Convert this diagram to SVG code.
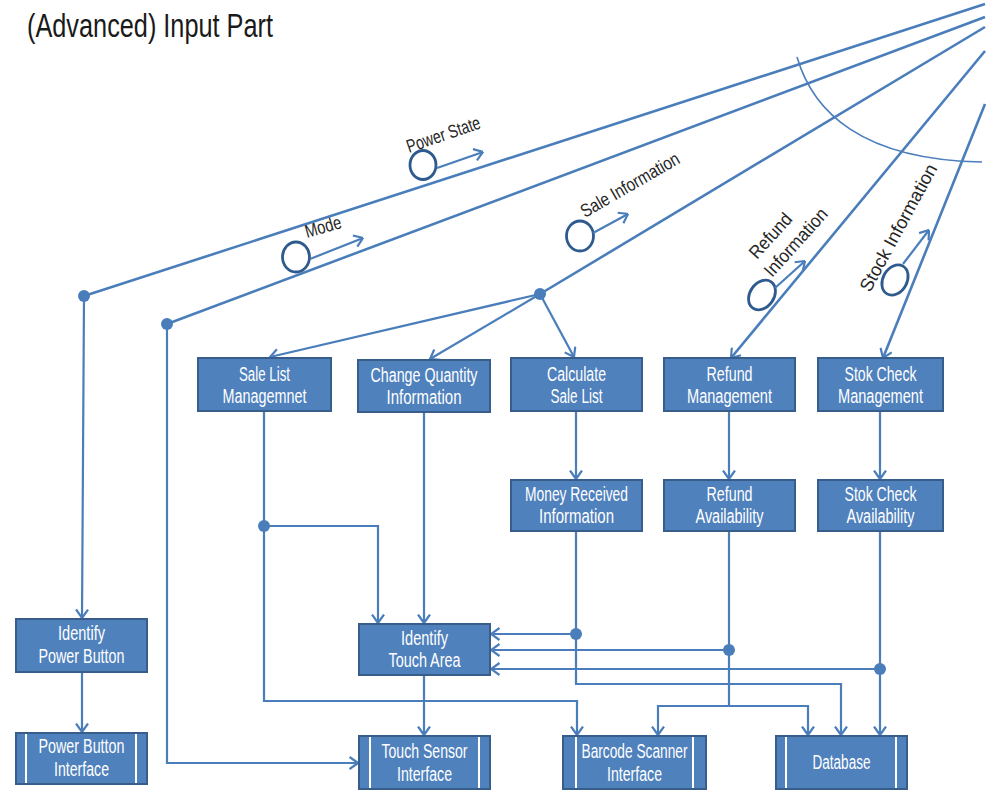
<svg xmlns="http://www.w3.org/2000/svg" width="989" height="790" viewBox="0 0 989 790">
  <defs>
    <marker id="arr" markerUnits="userSpaceOnUse" viewBox="0 0 10 14" refX="9.5" refY="7" markerWidth="10" markerHeight="14" orient="auto">
      <path d="M1,1 L9.5,7 L1,13" fill="none" stroke="#4a7ebb" stroke-width="2.2" stroke-linejoin="miter"/>
    </marker>
    <style>
      .box { fill: #4f81bd; stroke: #385d8a; stroke-width: 2; }
      .bar { stroke: #ffffff; stroke-width: 2; }
      .nt { font-family: "Liberation Sans", Arial, sans-serif; font-size: 19.5px; fill: #ffffff; text-anchor: middle; }
      .lt { font-family: "Liberation Sans", Arial, sans-serif; font-size: 18.5px; fill: #262626; }
      .wire { fill: none; stroke: #4a7ebb; stroke-width: 2.2; }
      .flow { fill: none; stroke: #4a7ebb; stroke-width: 2.6; }
      .tok { fill: none; stroke: #2f5a8e; stroke-width: 2.8; }
      .dot { fill: #4a7ebb; }
    </style>
  </defs>
  <rect width="989" height="790" fill="#ffffff"/>

  <text x="27" y="37" font-family="Liberation Sans, Arial, sans-serif" font-size="33" fill="#1a1a1a" textLength="246" lengthAdjust="spacingAndGlyphs">(Advanced) Input Part</text>

  <!-- boundary arc -->
  <path d="M797,57 C813,112 862,160 982,162" fill="none" stroke="#4a7ebb" stroke-width="1.6"/>

  <!-- connectors -->
  <g id="connectors">
    <path class="flow" d="M985,4 L84,296"/>
    <path class="flow" d="M985,17 L167,324"/>
    <path class="flow" d="M985,27 L540,294"/>
    <path class="flow" d="M985,51 L731,358" marker-end="url(#arr)"/>
    <path class="flow" d="M985,104 L883,358" marker-end="url(#arr)"/>

    <path class="wire" d="M84,296 L82,618" marker-end="url(#arr)"/>
    <path class="wire" d="M82,672 L82,732" marker-end="url(#arr)"/>
    <path class="wire" d="M167,324 L167,763 L358,763" marker-end="url(#arr)"/>

    <path class="wire" d="M540,294 L270,357" marker-end="url(#arr)"/>
    <path class="wire" d="M540,294 L430,359" marker-end="url(#arr)"/>
    <path class="wire" d="M540,294 L574,357" marker-end="url(#arr)"/>

    <path class="wire" d="M576,411 L576,479" marker-end="url(#arr)"/>
    <path class="wire" d="M729,411 L729,479" marker-end="url(#arr)"/>
    <path class="wire" d="M880,411 L880,479" marker-end="url(#arr)"/>

    <path class="wire" d="M264,411 L264,701 L577,701 L577,735" marker-end="url(#arr)"/>
    <path class="wire" d="M264,526 L378,526 L378,623" marker-end="url(#arr)"/>
    <path class="wire" d="M424,412 L424,623" marker-end="url(#arr)"/>
    <path class="wire" d="M424,675 L424,735" marker-end="url(#arr)"/>

    <path class="wire" d="M576,531 L576,684 L841,684 L841,735" marker-end="url(#arr)"/>
    <path class="wire" d="M576,634 L491,634" marker-end="url(#arr)"/>

    <path class="wire" d="M729,531 L729,706"/>
    <path class="wire" d="M729,706 L658,706 L658,735" marker-end="url(#arr)"/>
    <path class="wire" d="M729,706 L808,706 L808,735" marker-end="url(#arr)"/>
    <path class="wire" d="M729,650 L491,650" marker-end="url(#arr)"/>

    <path class="wire" d="M880,531 L880,735" marker-end="url(#arr)"/>
    <path class="wire" d="M880,669 L491,669" marker-end="url(#arr)"/>

    <circle class="dot" cx="84" cy="296" r="6"/>
    <circle class="dot" cx="167" cy="324" r="6"/>
    <circle class="dot" cx="540" cy="294" r="6"/>
    <circle class="dot" cx="264" cy="526" r="6"/>
    <circle class="dot" cx="576" cy="634" r="6"/>
    <circle class="dot" cx="729" cy="650" r="6"/>
    <circle class="dot" cx="880" cy="669" r="6"/>
  </g>

  <!-- data tokens on the incoming flows -->
  <g id="flow-labels">
    <ellipse class="tok" cx="423" cy="165" rx="13" ry="14.5"/>
    <path class="wire" d="M437,168 L483,152" marker-end="url(#arr)"/>
    <text class="lt" x="409" y="153" transform="rotate(-19 409 153)" textLength="77" lengthAdjust="spacingAndGlyphs">Power  State</text>

    <ellipse class="tok" cx="296" cy="257" rx="13.5" ry="15"/>
    <path class="wire" d="M310,259 L363,238" marker-end="url(#arr)"/>
    <text class="lt" x="307" y="238" transform="rotate(-16 307 238)" textLength="37" lengthAdjust="spacingAndGlyphs">Mode</text>

    <ellipse class="tok" cx="580" cy="236" rx="13.5" ry="15"/>
    <path class="wire" d="M593,233 L628,214" marker-end="url(#arr)"/>
    <text class="lt" x="585" y="218" transform="rotate(-30 585 218)" textLength="111" lengthAdjust="spacingAndGlyphs">Sale Information</text>

    <ellipse class="tok" cx="762" cy="295" rx="12" ry="16" transform="rotate(35 762 295)"/>
    <path class="wire" d="M775,288 L805,261" marker-end="url(#arr)"/>
    <text class="lt" x="757" y="260" transform="rotate(-48 757 260)" textLength="54" lengthAdjust="spacingAndGlyphs">Refund</text>
    <text class="lt" x="772" y="278" transform="rotate(-48 772 278)" textLength="85" lengthAdjust="spacingAndGlyphs">Information</text>

    <ellipse class="tok" cx="895" cy="280" rx="12" ry="16" transform="rotate(30 895 280)"/>
    <path class="wire" d="M903,264 L929,230" marker-end="url(#arr)"/>
    <text class="lt" x="870" y="293" transform="rotate(-61.5 870 293)" textLength="142" lengthAdjust="spacingAndGlyphs">Stock Information</text>
  </g>

  <g id="sale-list-management">
    <rect class="box" x="198" y="358" width="133" height="53"/>
    <text class="nt" x="264.5" y="381" textLength="51" lengthAdjust="spacingAndGlyphs">Sale List</text>
    <text class="nt" x="264.5" y="403" textLength="84" lengthAdjust="spacingAndGlyphs">Managemnet</text>
  </g>
  <g id="change-quantity-information">
    <rect class="box" x="358" y="360" width="132" height="52"/>
    <text class="nt" x="424" y="382" textLength="107" lengthAdjust="spacingAndGlyphs">Change Quantity</text>
    <text class="nt" x="424" y="404" textLength="75" lengthAdjust="spacingAndGlyphs">Information</text>
  </g>
  <g id="calculate-sale-list">
    <rect class="box" x="511" y="358" width="131" height="53"/>
    <text class="nt" x="576.5" y="381" textLength="59" lengthAdjust="spacingAndGlyphs">Calculate</text>
    <text class="nt" x="576.5" y="403" textLength="52" lengthAdjust="spacingAndGlyphs">Sale List</text>
  </g>
  <g id="refund-management">
    <rect class="box" x="664" y="358" width="131" height="53"/>
    <text class="nt" x="729.5" y="381" textLength="46" lengthAdjust="spacingAndGlyphs">Refund</text>
    <text class="nt" x="729.5" y="403" textLength="85" lengthAdjust="spacingAndGlyphs">Management</text>
  </g>
  <g id="stock-check-management">
    <rect class="box" x="818" y="358" width="125" height="53"/>
    <text class="nt" x="880.5" y="381" textLength="72" lengthAdjust="spacingAndGlyphs">Stok Check</text>
    <text class="nt" x="880.5" y="403" textLength="85" lengthAdjust="spacingAndGlyphs">Management</text>
  </g>
  <g id="money-received-information">
    <rect class="box" x="511" y="480" width="131" height="51"/>
    <text class="nt" x="576.5" y="501" textLength="103" lengthAdjust="spacingAndGlyphs">Money Received</text>
    <text class="nt" x="576.5" y="523" textLength="75" lengthAdjust="spacingAndGlyphs">Information</text>
  </g>
  <g id="refund-availability">
    <rect class="box" x="664" y="480" width="131" height="51"/>
    <text class="nt" x="729.5" y="501" textLength="46" lengthAdjust="spacingAndGlyphs">Refund</text>
    <text class="nt" x="729.5" y="523" textLength="68" lengthAdjust="spacingAndGlyphs">Availability</text>
  </g>
  <g id="stock-check-availability">
    <rect class="box" x="818" y="480" width="125" height="51"/>
    <text class="nt" x="880.5" y="501" textLength="72" lengthAdjust="spacingAndGlyphs">Stok Check</text>
    <text class="nt" x="880.5" y="523" textLength="68" lengthAdjust="spacingAndGlyphs">Availability</text>
  </g>
  <g id="identify-power-button">
    <rect class="box" x="16" y="619" width="131" height="53"/>
    <text class="nt" x="81.5" y="640" textLength="47" lengthAdjust="spacingAndGlyphs">Identify</text>
    <text class="nt" x="81.5" y="663" textLength="86" lengthAdjust="spacingAndGlyphs">Power Button</text>
  </g>
  <g id="power-button-interface">
    <rect class="box" x="16" y="733" width="131" height="51"/>
    <line class="bar" x1="26" y1="734" x2="26" y2="783"/>
    <line class="bar" x1="136" y1="734" x2="136" y2="783"/>
    <text class="nt" x="81.5" y="753" textLength="86" lengthAdjust="spacingAndGlyphs">Power Button</text>
    <text class="nt" x="81.5" y="776" textLength="55" lengthAdjust="spacingAndGlyphs">Interface</text>
  </g>
  <g id="identify-touch-area">
    <rect class="box" x="359" y="624" width="131" height="51"/>
    <text class="nt" x="424.5" y="645" textLength="47" lengthAdjust="spacingAndGlyphs">Identify</text>
    <text class="nt" x="424.5" y="667" textLength="72" lengthAdjust="spacingAndGlyphs">Touch Area</text>
  </g>
  <g id="touch-sensor-interface">
    <rect class="box" x="359" y="736" width="131" height="53"/>
    <line class="bar" x1="370" y1="737" x2="370" y2="788"/>
    <line class="bar" x1="479" y1="737" x2="479" y2="788"/>
    <text class="nt" x="424.5" y="758" textLength="86" lengthAdjust="spacingAndGlyphs">Touch Sensor</text>
    <text class="nt" x="424.5" y="781" textLength="55" lengthAdjust="spacingAndGlyphs">Interface</text>
  </g>
  <g id="barcode-scanner-interface">
    <rect class="box" x="563" y="736" width="143" height="53"/>
    <line class="bar" x1="576" y1="737" x2="576" y2="788"/>
    <line class="bar" x1="693" y1="737" x2="693" y2="788"/>
    <text class="nt" x="634.5" y="758" textLength="106" lengthAdjust="spacingAndGlyphs">Barcode Scanner</text>
    <text class="nt" x="634.5" y="781" textLength="55" lengthAdjust="spacingAndGlyphs">Interface</text>
  </g>
  <g id="database">
    <rect class="box" x="776" y="736" width="131" height="53"/>
    <line class="bar" x1="786" y1="737" x2="786" y2="788"/>
    <line class="bar" x1="896" y1="737" x2="896" y2="788"/>
    <text class="nt" x="841.5" y="769" textLength="58" lengthAdjust="spacingAndGlyphs">Database</text>
  </g>
</svg>
